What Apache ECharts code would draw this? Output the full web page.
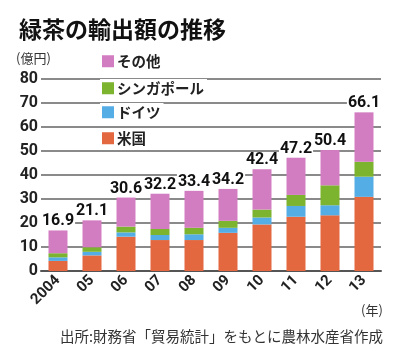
<!DOCTYPE html>
<html><head><meta charset="utf-8">
<script src="https://cdn.jsdelivr.net/npm/echarts@6/dist/echarts.min.js"></script>
<style>html,body{margin:0;padding:0;background:#fff}#c{width:396px;height:355px}</style>
</head><body><div id="c"></div>
<script>
const years = ['2004','05','06','07','08','09','10','11','12','13'];
const usa = [4.2, 6.5, 14.3, 12.9, 12.9, 15.9, 19.4, 22.6, 23.2, 30.9];
const germany = [1.5, 1.5, 1.8, 2.1, 2.4, 2.1, 2.9, 4.5, 4.2, 8.4];
const singapore = [1.7, 1.9, 2.4, 2.5, 2.7, 2.9, 3.3, 4.6, 8.3, 6.2];
const others = [9.5, 11.2, 12.1, 14.7, 15.4, 13.3, 16.8, 15.5, 14.7, 20.6];
const totals = [16.9, 21.1, 30.6, 32.2, 33.4, 34.2, 42.4, 47.2, 50.4, 66.1];
const yTicks = [0, 80, 10];
const names = ['米国', 'ドイツ', 'シンガポール', 'その他'];
const colors = ['#e3673f', '#55ade5', '#7cb32f', '#d27cc1'];

const narrow = 'Roboto, sans-serif';
const jp = '"Noto Sans CJK JP", sans-serif';

const chart = echarts.init(document.getElementById('c'));
const legendTops = {'その他': 52, 'シンガポール': 79, 'ドイツ': 103, '米国': 129};
const legends = ['その他', 'シンガポール', 'ドイツ', '米国'].map(n => ({
  data: [n], left: 100, top: legendTops[n], orient: 'vertical',
  icon: 'rect', itemWidth: 12, itemHeight: 12, itemGap: 3,
  backgroundColor: '#fff', padding: [2, 3, 2, 2], selectedMode: false,
  textStyle: {fontFamily: jp, fontSize: 14.5, fontWeight: 'bold', color: '#222', padding: [0, 0, 0, -2]}
}));
const data = [usa, germany, singapore, others];
chart.setOption({
  animation: false,
  title: [
    {text: '緑茶の輸出額の推移', left: 14, top: 13, textStyle: {fontFamily: jp, fontSize: 23, fontWeight: 'bold', color: '#111'}},
    {text: '(億円)', left: 11, top: 47, textStyle: {fontFamily: jp, fontSize: 13, fontWeight: 'normal', color: '#333'}},
    {text: '(年)', left: 356, top: 299, textStyle: {fontFamily: jp, fontSize: 13, fontWeight: 'normal', color: '#333'}},
    {text: '出所:財務省「貿易統計」をもとに農林水産省作成', left: 55, top: 324, textStyle: {fontFamily: jp, fontSize: 14.5, fontWeight: 'normal', color: '#333'}}
  ],
  legend: legends,
  grid: {left: 41, right: 15, top: 79, height: 192},
  xAxis: {
    type: 'category', data: years,
    axisLine: {lineStyle: {color: '#555', width: 2}},
    axisTick: {show: false},
    axisLabel: {rotate: 45, margin: 7, fontFamily: narrow, fontSize: 15, fontWeight: 'bold', color: '#222'}
  },
  yAxis: {
    type: 'value', min: yTicks[0], max: yTicks[1], interval: yTicks[2],
    axisLine: {show: false}, axisTick: {show: false},
    axisLabel: {margin: 3, fontFamily: narrow, fontSize: 16, fontWeight: 'bold', color: '#222'},
    splitLine: {lineStyle: {color: '#8a8a8a', width: 2}}
  },
  series: data.map((d, i) => ({
    name: names[i], type: 'bar', stack: 'total', data: d, barWidth: 19,
    itemStyle: {color: colors[i]},
    label: i === 3 ? {
      show: true, position: 'top', distance: 1,
      formatter: p => totals[p.dataIndex].toFixed(1),
      fontFamily: narrow, fontSize: 16, fontWeight: 'bold', color: '#111',
      backgroundColor: '#fff', padding: [0, 1, 0, 1]
    } : {show: false},
    labelLayout: {hideOverlap: false}
  }))
});
</script></body></html>
